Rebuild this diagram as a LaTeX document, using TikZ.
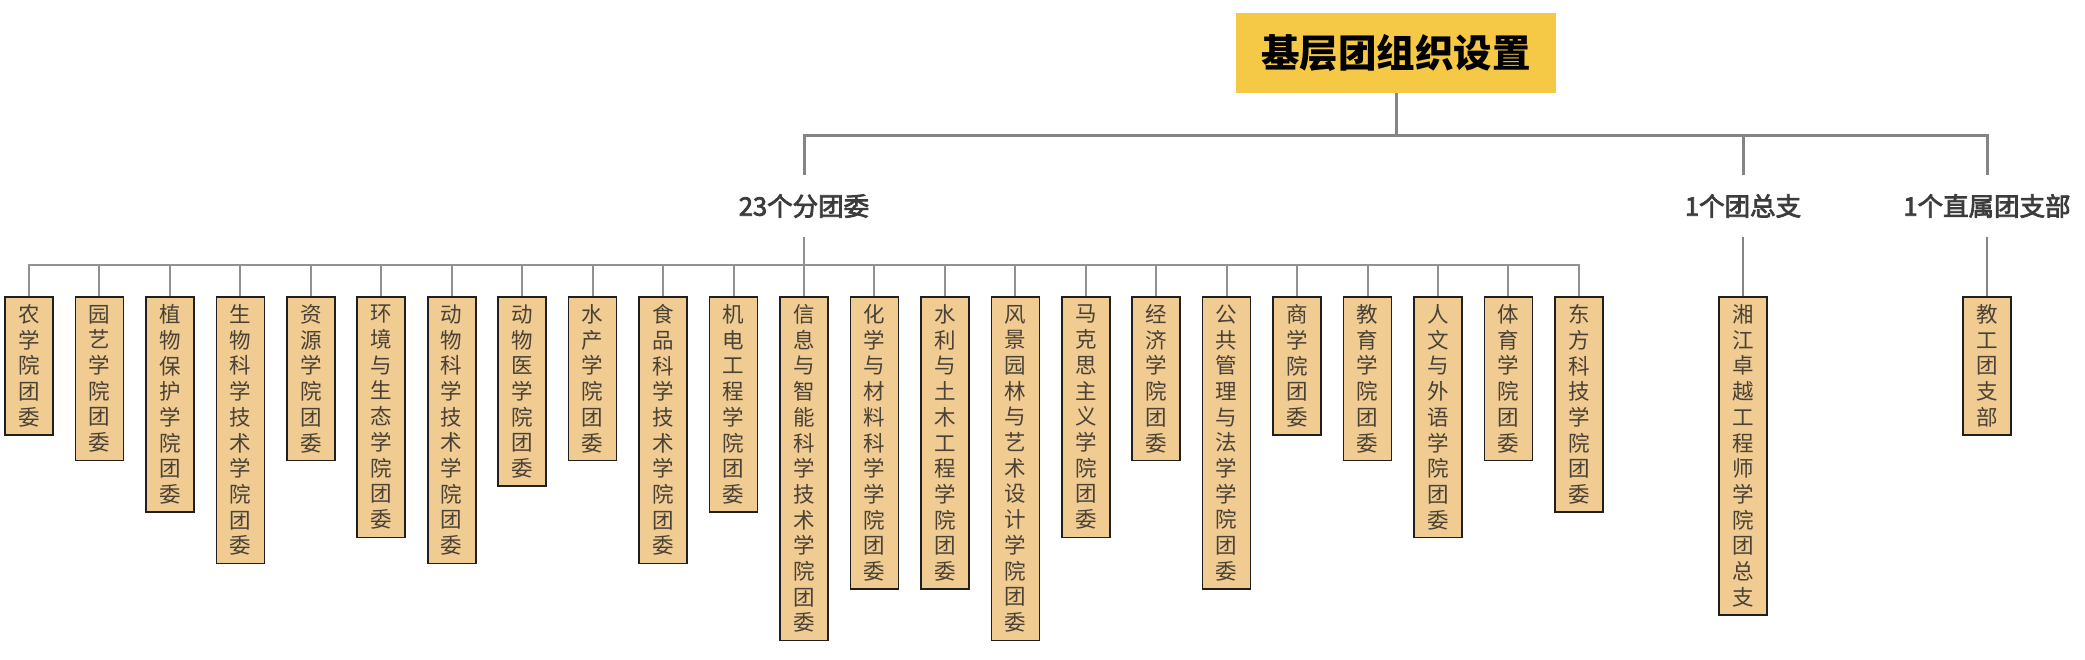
\documentclass[tikz,border=0pt]{standalone}
\usepackage{fontspec}
\setmainfont{Noto Sans CJK SC}
\newfontfamily\labfont{Noto Sans CJK SC}[FakeBold=3]
\definecolor{boxfill}{HTML}{F0CB92}
\definecolor{boxtext}{HTML}{4A4236}
\definecolor{titlefill}{HTML}{F5C846}
\definecolor{linegray}{HTML}{858585}
\definecolor{labtext}{HTML}{3C3C3C}
\tikzset{
  unit/.style={draw=black!88, line width=1.6pt, fill=boxfill, anchor=north,
    minimum width=48pt, inner xsep=0pt, inner ysep=0pt,
    minimum height={35.2pt+(#1-1)*25.7pt}, align=center,
    font=\fontsize{21.5}{25.7}\selectfont, text=boxtext},
  lab/.style={inner sep=0pt, minimum height=61pt, text=labtext,
    font=\labfont\fontsize{25.5}{30}\selectfont},
  titlebox/.style={fill=titlefill, minimum width=320pt, minimum height=80pt,
    inner sep=0pt, font=\fontsize{38.5}{44}\selectfont\bfseries, text=black},
  topline/.style={draw=linegray, line width=3pt},
  subline/.style={draw=linegray!90, line width=2pt},
  thinline/.style={draw=linegray, line width=1.5pt},
}
\begin{document}
\begin{tikzpicture}[x=1pt,y=-1pt]
\useasboundingbox (0,0) rectangle (2085,660);
% title
\node[titlebox] (t) at (1396,53) {基层团组织设置};
% level labels
\node[lab] (l1) at (804,206) {23个分团委};
\node[lab] (l2) at (1743,206) {1个团总支};
\node[lab] (l3) at (1987,206) {1个直属团支部};
% top connectors
\coordinate (top) at (1396,136);
\draw[topline] (t.south) -- (top);
\draw[topline] (l1.north) |- (top) -| (l3.north);
\draw[topline] (l2.north) -- (l2.north |- top);
% units
\node[unit=5]  (u1)  at (29.0,296)    {农\\学\\院\\团\\委};
\node[unit=6]  (u2)  at (99.45,296)   {园\\艺\\学\\院\\团\\委};
\node[unit=8]  (u3)  at (169.9,296)   {植\\物\\保\\护\\学\\院\\团\\委};
\node[unit=10] (u4)  at (240.35,296)  {生\\物\\科\\学\\技\\术\\学\\院\\团\\委};
\node[unit=6]  (u5)  at (310.8,296)   {资\\源\\学\\院\\团\\委};
\node[unit=9]  (u6)  at (381.25,296)  {环\\境\\与\\生\\态\\学\\院\\团\\委};
\node[unit=10] (u7)  at (451.7,296)   {动\\物\\科\\学\\技\\术\\学\\院\\团\\委};
\node[unit=7]  (u8)  at (522.15,296)  {动\\物\\医\\学\\院\\团\\委};
\node[unit=6]  (u9)  at (592.6,296)   {水\\产\\学\\院\\团\\委};
\node[unit=10] (u10) at (663.05,296)  {食\\品\\科\\学\\技\\术\\学\\院\\团\\委};
\node[unit=8]  (u11) at (733.5,296)   {机\\电\\工\\程\\学\\院\\团\\委};
\node[unit=13] (u12) at (803.95,296)  {信\\息\\与\\智\\能\\科\\学\\技\\术\\学\\院\\团\\委};
\node[unit=11] (u13) at (874.4,296)   {化\\学\\与\\材\\料\\科\\学\\学\\院\\团\\委};
\node[unit=11] (u14) at (944.85,296)  {水\\利\\与\\土\\木\\工\\程\\学\\院\\团\\委};
\node[unit=13] (u15) at (1015.3,296)  {风\\景\\园\\林\\与\\艺\\术\\设\\计\\学\\院\\团\\委};
\node[unit=9]  (u16) at (1085.75,296) {马\\克\\思\\主\\义\\学\\院\\团\\委};
\node[unit=6]  (u17) at (1156.2,296)  {经\\济\\学\\院\\团\\委};
\node[unit=11] (u18) at (1226.65,296) {公\\共\\管\\理\\与\\法\\学\\学\\院\\团\\委};
\node[unit=5]  (u19) at (1297.1,296)  {商\\学\\院\\团\\委};
\node[unit=6]  (u20) at (1367.55,296) {教\\育\\学\\院\\团\\委};
\node[unit=9]  (u21) at (1438.0,296)  {人\\文\\与\\外\\语\\学\\院\\团\\委};
\node[unit=6]  (u22) at (1508.45,296) {体\\育\\学\\院\\团\\委};
\node[unit=8]  (u23) at (1578.9,296)  {东\\方\\科\\技\\学\\院\\团\\委};
\node[unit=12] (x1)  at (1743,296)    {湘\\江\\卓\\越\\工\\程\\师\\学\\院\\团\\总\\支};
\node[unit=5]  (x2)  at (1987,296)    {教\\工\\团\\支\\部};
% sub connectors
\coordinate (bus) at (804,265);
\draw[subline] (l1.south) -- (bus);
\draw[subline] (u1.north) |- (bus) -| (u23.north);
\foreach \i in {2,...,22} \draw[subline] (u\i.north) -- (u\i.north |- bus);
\draw[thinline] (l2.south) -- (x1.north);
\draw[thinline] (l3.south) -- (x2.north);
\end{tikzpicture}
\end{document}
